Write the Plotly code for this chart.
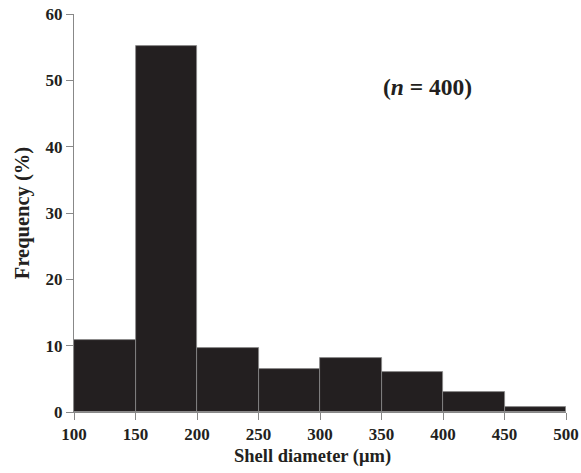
import plotly.graph_objects as go

bin_left = [100, 150, 200, 250, 300, 350, 400, 450]
bin_width = 50
frequency = [10.8, 55.2, 9.6, 6.5, 8.2, 6.0, 3.0, 0.75]
x_ticks = [100, 150, 200, 250, 300, 350, 400, 450, 500]
y_ticks = [0, 10, 20, 30, 40, 50, 60]

centers = [b + bin_width / 2 for b in bin_left]

font_family = "Liberation Serif"

fig = go.Figure()
fig.add_trace(go.Bar(
    x=centers, y=frequency, width=[bin_width] * len(centers),
    marker=dict(color="#231f20", line=dict(color="#8a8a8a", width=0.8)),
    showlegend=False,
))

fig.update_layout(
    template="none",
    width=581, height=473,
    margin=dict(l=74, r=15, t=14, b=61),
    plot_bgcolor="white", paper_bgcolor="white",
    bargap=0,
    font=dict(family=font_family, color="#231f20"),
    xaxis=dict(
        range=[100, 500], tickvals=x_ticks,
        ticktext=[f"<b>{v}</b>" for v in x_ticks],
        ticks="outside", ticklen=7, tickcolor="#888888", tickwidth=1,
        showline=True, linecolor="#888888", linewidth=1,
        showgrid=False, zeroline=False, automargin=False,
        tickfont=dict(size=17, family=font_family, color="#231f20"),
    ),
    yaxis=dict(
        range=[0, 60], tickvals=y_ticks,
        ticktext=[f"<b>{v}</b>" for v in y_ticks],
        ticks="outside", ticklen=7, tickcolor="#888888", tickwidth=1,
        showline=True, linecolor="#888888", linewidth=1,
        showgrid=False, zeroline=False, automargin=False,
        tickfont=dict(size=17, family=font_family, color="#231f20"),
        title=dict(text="<b>Frequency (%)</b>", font=dict(size=20.5, family=font_family, color="#231f20"), standoff=10),
    ),
    annotations=[
        dict(
            x=0.718, y=0.817, xref="paper", yref="paper",
            xanchor="center", yanchor="middle",
            text="<b>(<i>n</i> = 400)</b>", showarrow=False,
            font=dict(size=23.5, family=font_family, color="#231f20"),
        ),
        dict(
            x=0.485, y=-0.113, xref="paper", yref="paper",
            xanchor="center", yanchor="middle",
            text="<b>Shell diameter (μm)</b>", showarrow=False,
            font=dict(size=18.5, family=font_family, color="#231f20"),
        ),
    ],
)

fig.write_html("out.html", config={"displayModeBar": False},
               post_script="document.body.style.margin='0';")
